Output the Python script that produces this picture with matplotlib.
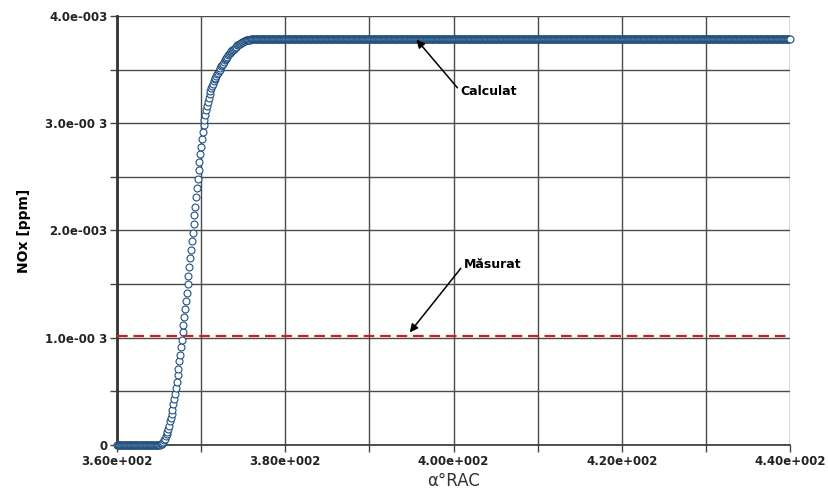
import numpy as np
import matplotlib
matplotlib.use("Agg")
import matplotlib.pyplot as plt

# crank angle of each computed point (deg), 0.1 deg step
alpha = np.linspace(360.0, 440.0, 801)

# NOx values (units of 1e-3)
nox_flat = [0.0] * 51                      # 360.0 .. 365.0
nox_rise = [                               # 365.1 .. 376.4
    0.004, 0.008, 0.014, 0.022, 0.03, 0.045, 0.06, 0.08, 0.10, 0.12,
    0.15, 0.18, 0.22, 0.25, 0.29, 0.33, 0.38, 0.43, 0.48, 0.53,
    0.59, 0.65, 0.71, 0.78, 0.84, 0.91, 0.98, 1.05, 1.12, 1.19,
    1.27, 1.34, 1.42, 1.50, 1.58, 1.66, 1.74, 1.82, 1.90, 1.98,
    2.06, 2.14, 2.22, 2.31, 2.40, 2.48, 2.56, 2.64, 2.71, 2.78,
    2.85, 2.92, 2.98, 3.03, 3.08, 3.12, 3.16, 3.20, 3.24, 3.27,
    3.30, 3.33, 3.35, 3.37, 3.39, 3.41, 3.42, 3.44, 3.455, 3.47,
    3.485, 3.50, 3.515, 3.53, 3.54, 3.555, 3.57, 3.585, 3.60, 3.61,
    3.62, 3.635, 3.645, 3.655, 3.66, 3.67, 3.68, 3.685, 3.695, 3.70,
    3.71, 3.715, 3.725, 3.73, 3.735, 3.74, 3.745, 3.75, 3.755, 3.76,
    3.765, 3.77, 3.772, 3.774, 3.775, 3.777, 3.779, 3.78, 3.782, 3.785,
    3.786, 3.787, 3.788, 3.789]
nox_plateau = [3.79] * (len(alpha) - len(nox_flat) - len(nox_rise))
nox_calc = np.array(nox_flat + nox_rise + nox_plateau) * 1e-3

# measured value
meas_x = [360, 440]
meas_y = [1.02e-3, 1.02e-3]

xticks = [360, 380, 400, 420, 440]
xtick_labels = ["3.60e+002", "3.80e+002", "4.00e+002", "4.20e+002", "4.40e+002"]
yticks = [0, 1e-3, 2e-3, 3e-3, 4e-3]
ytick_labels = ["0", "1.0e-00 3", "2.0e-003", "3.0e-00 3", "4.0e-003"]

fig = plt.figure(figsize=(8.29, 4.98), dpi=100)
ax = fig.add_axes([0.1411, 0.1064, 0.953 - 0.1411, 0.9679 - 0.1064])

ax.set_xlim(360, 440)
ax.set_ylim(0, 4e-3)

ax.set_xticks(xticks)
ax.set_xticklabels(xtick_labels, fontsize=8.5, fontweight="bold", color="#222222")
ax.set_xticks(np.arange(370, 440, 20), minor=True)
ax.set_yticks(yticks)
ax.set_yticklabels(ytick_labels, fontsize=8.5, fontweight="bold", color="#222222")
ax.set_yticks(np.arange(0.5e-3, 4e-3, 1e-3), minor=True)
ax.tick_params(which="both", direction="out", length=5, width=1, color="#444444", pad=2)

ax.grid(True, which="both", color="#4a4a4a", linewidth=1.0)
ax.set_axisbelow(True)
for s in ["top", "right"]:
    ax.spines[s].set_visible(False)
ax.spines["left"].set_linewidth(2.0)
ax.spines["left"].set_color("#333333")
ax.spines["bottom"].set_linewidth(1.2)
ax.spines["bottom"].set_color("#333333")

ax.plot(alpha, nox_calc, linestyle="none", marker="o", markersize=5,
        markerfacecolor="white", markeredgecolor="#1f4f7f", markeredgewidth=0.8,
        clip_on=False, zorder=3)

ax.plot(meas_x, meas_y, color="#cc1f2a", linewidth=1.6, dashes=(4.8, 2.6), zorder=3)

ax.annotate("Calculat", xy=(395.6, 3.78e-3), xytext=(400.8, 3.3e-3),
            fontsize=9, fontweight="bold", va="center", ha="left",
            arrowprops=dict(arrowstyle="-|>", color="black", lw=1.1,
                            shrinkA=0, shrinkB=0, mutation_scale=12,
                            relpos=(0, 0.5)))
ax.annotate("Măsurat", xy=(394.8, 1.05e-3), xytext=(401.2, 1.68e-3),
            fontsize=9, fontweight="bold", va="center", ha="left",
            arrowprops=dict(arrowstyle="-|>", color="black", lw=1.1,
                            shrinkA=0, shrinkB=0, mutation_scale=12,
                            relpos=(0, 0.5)))

ax.set_ylabel("NOx [ppm]", fontsize=10, fontweight="bold", labelpad=10)
ax.set_xlabel("α°RAC", fontsize=12, color="#333333", labelpad=3)

fig.savefig("out.png", dpi=100)
